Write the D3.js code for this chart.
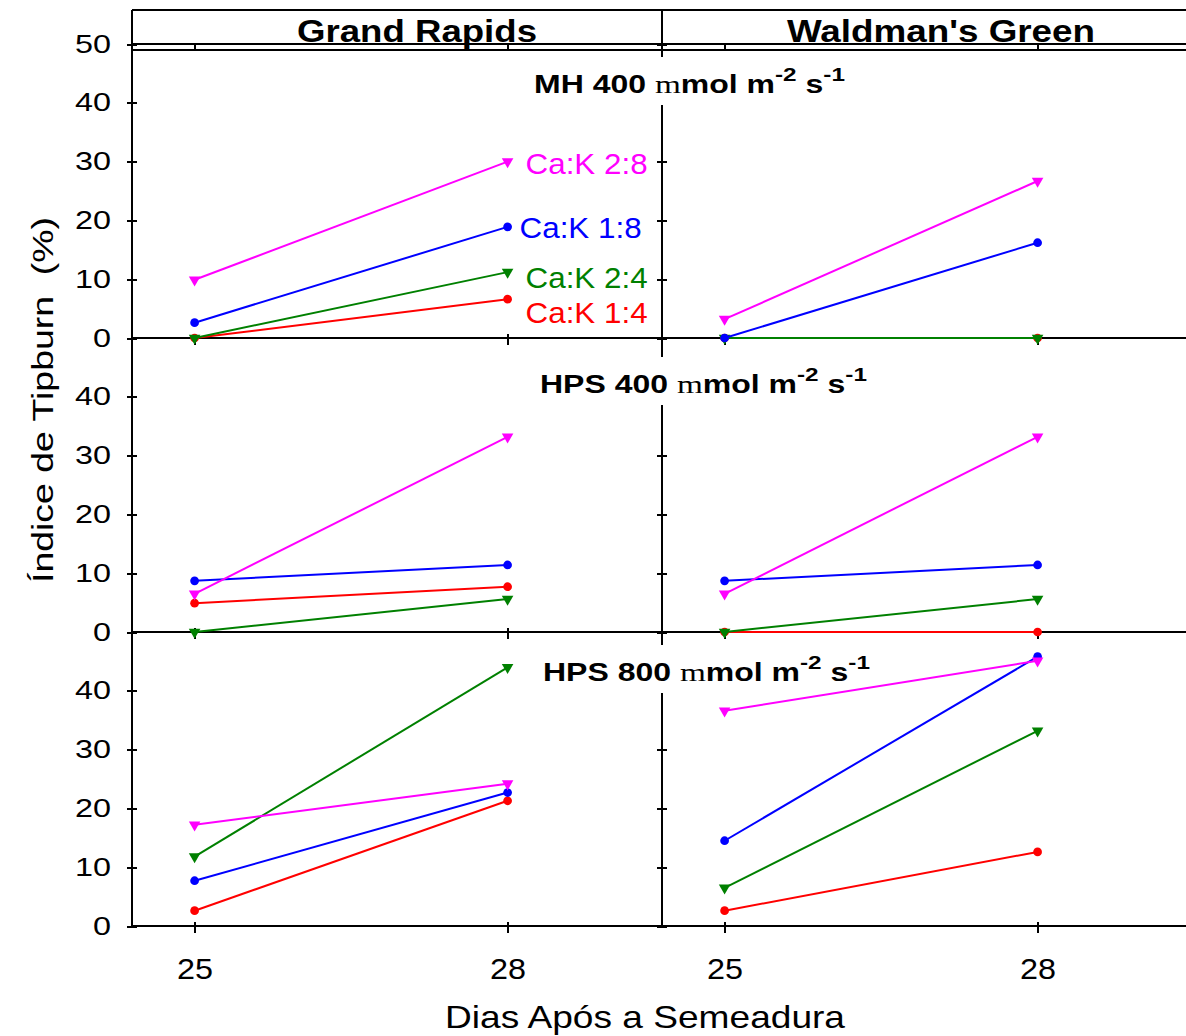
<!DOCTYPE html>
<html lang="pt">
<head>
<meta charset="UTF-8">
<title>Índice de Tipburn</title>
<script src="https://cdn.jsdelivr.net/npm/d3@7/dist/d3.min.js"></script>
<style>
    body { margin: 0; background: #fff; }
    svg { display: block; font-family: "Liberation Sans", Arial, sans-serif; }
    .frame line { stroke: #000; stroke-width: 2; shape-rendering: crispEdges; }
    .axis .tick line { stroke: #000; stroke-width: 2; shape-rendering: crispEdges; }
    .axis .tick text { fill: #000; font-family: "Liberation Sans", Arial, sans-serif; }
    .serie path.line { fill: none; stroke-width: 2; }
</style>
</head>
<body>
<svg width="1186" height="1036"></svg>
<script>
// ---- data ----
var days = [25, 28];
var cultivars = ["Grand Rapids", "Waldman's Green"];
var lamps = ["MH 400", "HPS 400", "HPS 800"];
// draw order: 1:4, 2:4, 1:8, 2:8
var series = ["Ca:K 1:4", "Ca:K 2:4", "Ca:K 1:8", "Ca:K 2:8"];
var colors = ["#ff0000", "#008000", "#0000ff", "#ff00ff"];
var markers = ["circle", "triangle", "circle", "triangle"];
var yTicks = [0, 10, 20, 30, 40, 50];

// tipburn index (%) at day 25 and day 28, one pair per series
var mh400GR  = [[0, 6.6], [0, 11.2], [2.6, 18.9], [9.9, 30.0]];
var mh400WG  = [[0, 0], [0, 0], [0, 16.2], [3.2, 26.7]];
var hps400GR = [[4.9, 7.7], [0, 5.6], [8.7, 11.4], [6.5, 33.2]];
var hps400WG = [[0, 0], [0, 5.6], [8.7, 11.4], [6.5, 33.2]];
var hps800GR = [[2.6, 21.3], [11.8, 44.0], [7.7, 22.7], [17.2, 24.2]];
var hps800WG = [[2.6, 12.6], [6.5, 33.2], [14.5, 45.8], [36.6, 45.1]];
var panels = [[mh400GR, mh400WG], [hps400GR, hps400WG], [hps800GR, hps800WG]];

// where the series names sit in the first panel (y value of label centre)
var labelAt = [4.4, 10.2, 18.7, 29.7];

// ---- layout ----
var svg = d3.select("svg");
var left = 132, colW = 530, rowH = 294, top0 = 44, right = left + 2 * colW;

function yScale(r) {
    return d3.scaleLinear().domain([0, 50]).range([top0 + rowH * (r + 1), top0 + rowH * r]);
}
function xScale(c) {
    return d3.scaleLinear().domain([24.4, 29.48]).range([left + colW * c, left + colW * (c + 1)]);
}

// stretch a text to a given length (the original type is wide)
function stretch(sel, len) {
    sel.attr("textLength", len).attr("lengthAdjust", "spacingAndGlyphs");
}

// ---- frame ----
var frame = svg.append("g").attr("class", "frame");
var hLines = [10, top0, top0 + 5.5, top0 + rowH, top0 + 2 * rowH, top0 + 3 * rowH];
hLines.forEach(function(y) {
    frame.append("line").attr("x1", left).attr("x2", right).attr("y1", y).attr("y2", y);
});
[left, left + colW, right].forEach(function(x) {
    frame.append("line").attr("x1", x).attr("x2", x).attr("y1", 10).attr("y2", top0 + 3 * rowH);
});

// ---- axes ----
lamps.forEach(function(lamp, r) {
    var y = yScale(r);

    // labelled y axis on the left
    var ya = svg.append("g").attr("class", "axis")
        .attr("transform", "translate(" + left + ",0)")
        .call(d3.axisLeft(y).tickValues(yTicks).tickSize(5).tickSizeOuter(0)
            .tickFormat(function(d) { return (r > 0 && d === 50) ? "" : d; }));
    ya.select(".domain").remove();
    ya.selectAll(".tick line").attr("x1", 5);
    ya.selectAll(".tick text").attr("x", -21).style("font-size", "25px")
        .each(function(d) {
            if (r > 0 && d === 50) return;
            stretch(d3.select(this), String(d).length * 18);
        });

    // ticks on the divider and the right border
    [left + colW, right].forEach(function(x) {
        var a = svg.append("g").attr("class", "axis")
            .attr("transform", "translate(" + x + ",0)")
            .call(d3.axisLeft(y).tickValues(yTicks).tickSize(5).tickSizeOuter(0).tickFormat(""));
        a.select(".domain").remove();
        a.selectAll(".tick line").attr("x1", 5);
    });

    cultivars.forEach(function(cv, c) {
        var x = xScale(c);
        var xa = svg.append("g").attr("class", "axis")
            .attr("transform", "translate(0," + y(0) + ")")
            .call(d3.axisBottom(x).tickValues(days).tickSize(7).tickSizeOuter(0)
                .tickFormat(r === 2 ? d3.format("d") : ""));
        xa.select(".domain").remove();
        xa.selectAll(".tick line").attr("y1", -4);
        xa.selectAll(".tick text").attr("y", 32).style("font-size", "30px")
            .each(function() { stretch(d3.select(this), 36); });

        if (r === 0) {
            var ta = svg.append("g").attr("class", "axis")
                .attr("transform", "translate(0," + y(50) + ")")
                .call(d3.axisBottom(x).tickValues(days).tickSize(5.5).tickSizeOuter(0).tickFormat(""));
            ta.select(".domain").remove();
        }
    });
});

// ---- panel titles (white box hides the divider) ----
var titleX = [534, 540, 543];
var titleDy = [49, 55, 49];
lamps.forEach(function(lamp, r) {
    var y = yScale(r);
    var base = y(50) + titleDy[r];
    var outer = svg.append("g");
    var inner = outer.append("g")
        .attr("transform", "translate(" + titleX[r] + "," + base + ") scale(1.28,1)");
    var t = inner.append("text").attr("font-weight", "bold").attr("font-size", 25)
        .attr("xml:space", "preserve");
    t.append("tspan").text(lamp + " ");
    t.append("tspan").attr("font-family", "'Liberation Serif', 'Times New Roman', serif")
        .attr("font-weight", "normal").attr("font-size", 26).text("m");
    t.append("tspan").text("mol m");
    t.append("tspan").attr("font-size", 19).attr("dy", -12).text("-2");
    t.append("tspan").attr("dy", 12).text(" s");
    t.append("tspan").attr("font-size", 19).attr("dy", -12).text("-1");
    var bb = outer.node().getBBox();
    outer.insert("rect", ":first-child")
        .attr("x", bb.x - 4).attr("y", base - 36)
        .attr("width", bb.width + 8).attr("height", 48)
        .attr("fill", "#fff");
});

// ---- series ----
lamps.forEach(function(lamp, r) {
    var y = yScale(r);
    cultivars.forEach(function(cv, c) {
        var x = xScale(c);
        var line = d3.line()
            .x(function(d, i) { return x(days[i]); })
            .y(function(d) { return y(d); });
        panels[r][c].forEach(function(vals, s) {
            var g = svg.append("g").attr("class", "serie");
            g.append("path").attr("class", "line")
                .attr("d", line(vals)).attr("stroke", colors[s]);
            var sym = markers[s] === "circle"
                ? d3.symbol(d3.symbolCircle, 60)
                : d3.symbol(d3.symbolTriangle, 58);
            g.selectAll(".pt").data(vals).enter().append("path")
                .attr("class", "pt")
                .attr("d", sym)
                .attr("fill", colors[s])
                .attr("transform", function(d, i) {
                    return "translate(" + x(days[i]) + "," + y(d) + ")" +
                        (markers[s] === "triangle" ? " rotate(180)" : "");
                });
        });
    });
});

// series names in the first panel
var y0 = yScale(0), x0 = xScale(0);
series.forEach(function(name, s) {
    var tx = svg.append("text")
        .attr("x", x0(28) + (s === 2 ? 12 : 18))
        .attr("y", y0(labelAt[s]))
        .attr("dy", "0.36em")
        .attr("font-size", 29)
        .attr("fill", colors[s])
        .text(name);
    stretch(tx, 122);
});

// ---- headers and axis titles ----
cultivars.forEach(function(cv, c) {
    var hx = (c === 0) ? 417 : 941;
    var h = svg.append("text")
        .attr("x", hx).attr("y", 42)
        .attr("text-anchor", "middle")
        .attr("font-weight", "bold").attr("font-size", 32)
        .text(cv);
    stretch(h, c === 0 ? 240 : 308);
});

var yl = svg.append("text")
    .attr("transform", "translate(53,400) rotate(-90)")
    .attr("text-anchor", "middle")
    .attr("font-size", 29)
    .attr("xml:space", "preserve")
    .text("Índice de Tipburn  (%)");
stretch(yl, 366);

var xl = svg.append("text")
    .attr("x", 645).attr("y", 1028)
    .attr("text-anchor", "middle")
    .attr("font-size", 32)
    .text("Dias Após a Semeadura");
stretch(xl, 400);
</script>
</body>
</html>
